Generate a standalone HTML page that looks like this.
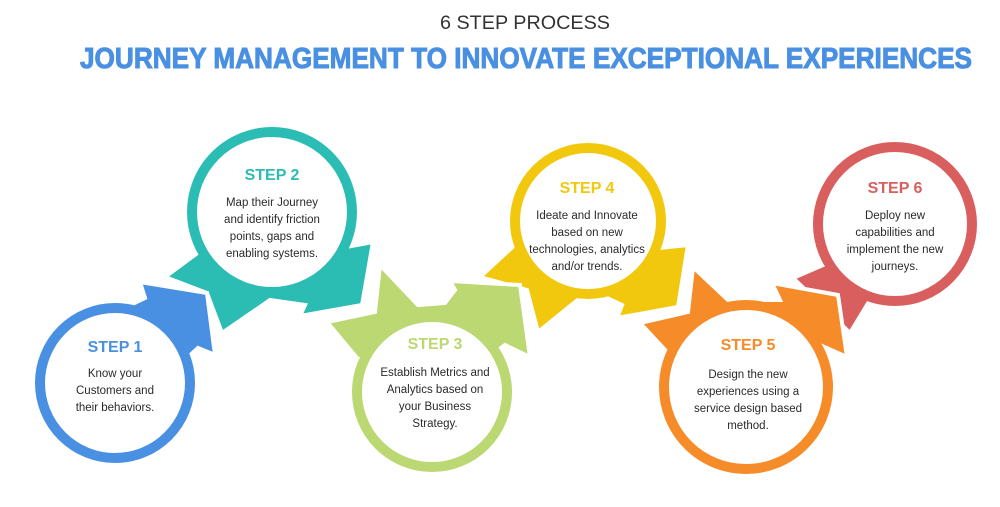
<!DOCTYPE html>
<html><head><meta charset="utf-8"><style>
html,body{margin:0;padding:0;background:#fff;}
svg{display:block;}
text{font-family:"Liberation Sans",sans-serif;}
.l{font-weight:bold;font-size:16px;text-anchor:middle;}
.b{font-size:11.5px;fill:#2a2a2a;text-anchor:middle;}
</style></head><body>
<svg width="1000" height="507" viewBox="0 0 1000 507">
<rect width="1000" height="507" fill="#fff"/>
<text x="525" y="29" font-size="19" fill="#333" text-anchor="middle" textLength="170" lengthAdjust="spacingAndGlyphs">6 STEP PROCESS</text>
<text x="80" y="68" font-size="29" font-weight="bold" fill="#4a90e2" stroke="#4a90e2" stroke-width="1" textLength="892" lengthAdjust="spacingAndGlyphs">JOURNEY MANAGEMENT TO INNOVATE EXCEPTIONAL EXPERIENCES</text>

<g stroke="#fff" stroke-width="4" stroke-linejoin="miter">
<polygon fill="#d95f5f" points="850,333 793,278 830,262 900,250 870,300"/>
<circle cx="895" cy="224" r="77" fill="#fff" stroke="#d95f5f" stroke-width="10"/>
<polygon fill="#f68b29" points="667,352 640,323 688,312 693,267 728,300 780,300 772,283 838,295 847,357 820,345 746,420"/>
<circle cx="746" cy="387" r="82" fill="#fff" stroke="#f68b29" stroke-width="10"/>
<polygon fill="#f2c80f" points="538,332 527,290 480,277 520,240 640,250 688,245 678,307 617,318 622,305 590,290"/>
<circle cx="588" cy="221" r="73" fill="#fff" stroke="#f2c80f" stroke-width="10"/>
<polygon fill="#bcd872" points="357,358 327,322 375,312 380,265 418,305 445,303 455,290 450,281 520,285 530,357 505,345 432,400"/>
<circle cx="432" cy="392" r="75" fill="#fff" stroke="#bcd872" stroke-width="10"/>
<polygon fill="#2bbcb4" points="222,333 207,293 165,277 215,240 330,250 373,242 362,305 300,316 305,305 270,300"/>
<circle cx="272" cy="212" r="80" fill="#fff" stroke="#2bbcb4" stroke-width="10"/>
<polygon fill="#4a90e2" points="120,310 145,298 140,282 207,293 215,355 198,348 185,360 115,383"/>
<circle cx="115" cy="383" r="75" fill="#fff" stroke="#4a90e2" stroke-width="10"/>
</g>

<text class="l" x="115" y="352" fill="#4a90e2">STEP 1</text>
<text class="b" x="115" y="377">Know your</text>
<text class="b" x="115" y="394">Customers and</text>
<text class="b" x="115" y="411">their behaviors.</text>

<text class="l" x="272" y="180" fill="#2bbcb4">STEP 2</text>
<text class="b" x="272" y="206">Map their Journey</text>
<text class="b" x="272" y="223">and identify friction</text>
<text class="b" x="272" y="240">points, gaps and</text>
<text class="b" x="272" y="257">enabling systems.</text>

<text class="l" x="435" y="349" fill="#bcd872">STEP 3</text>
<text class="b" x="435" y="376">Establish Metrics and</text>
<text class="b" x="435" y="393">Analytics based on</text>
<text class="b" x="435" y="410">your Business</text>
<text class="b" x="435" y="427">Strategy.</text>

<text class="l" x="587" y="193" fill="#f2c80f">STEP 4</text>
<text class="b" x="587" y="219">Ideate and Innovate</text>
<text class="b" x="587" y="236">based on new</text>
<text class="b" x="587" y="253">technologies, analytics</text>
<text class="b" x="587" y="270">and/or trends.</text>

<text class="l" x="748" y="350" fill="#f68b29">STEP 5</text>
<text class="b" x="748" y="378">Design the new</text>
<text class="b" x="748" y="395">experiences using a</text>
<text class="b" x="748" y="412">service design based</text>
<text class="b" x="748" y="429">method.</text>

<text class="l" x="895" y="193" fill="#d95f5f">STEP 6</text>
<text class="b" x="895" y="219">Deploy new</text>
<text class="b" x="895" y="236">capabilities and</text>
<text class="b" x="895" y="253">implement the new</text>
<text class="b" x="895" y="270">journeys.</text>
</svg>
</body></html>
